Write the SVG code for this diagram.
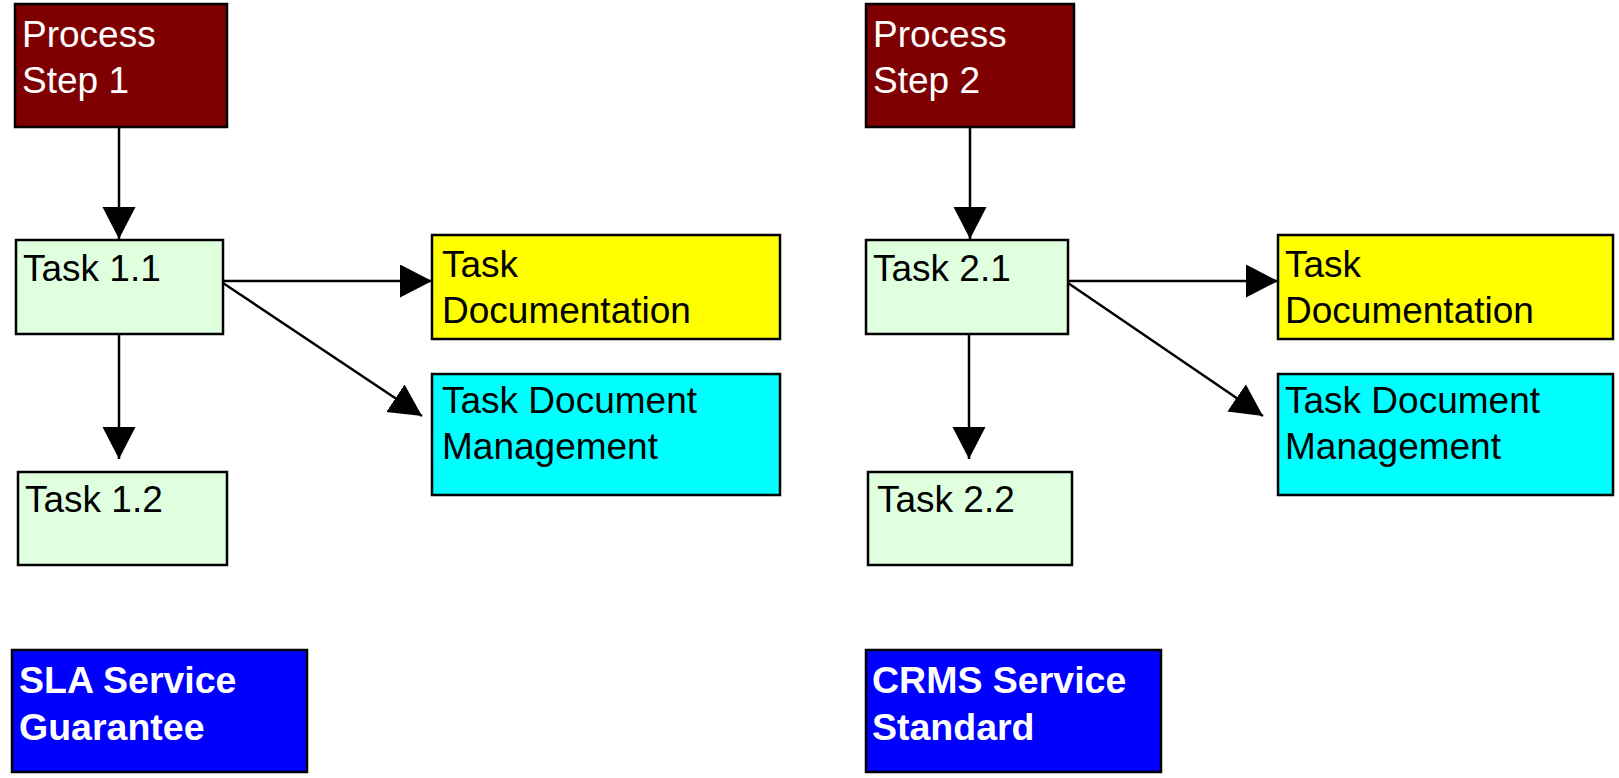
<svg xmlns="http://www.w3.org/2000/svg" width="1619" height="778" viewBox="0 0 1619 778">
  <style>
    .box { stroke: #000; stroke-width: 2.5; }
    .step { fill: #7f0000; }
    .task { fill: #dfffdf; }
    .doc { fill: #ffff00; }
    .mgmt { fill: #00ffff; }
    .svc { fill: #0000ff; }
    .lbl { font-family: "Liberation Sans", Arial, sans-serif; font-size: 37px; fill: #000; }
    .light { fill: #fff; }
    .bold { font-weight: bold; font-size: 37.5px; fill: #fff; }
    .edge { stroke: #000; stroke-width: 2.5; fill: none; marker-end: url(#head); }
  </style>
  <defs>
    <marker id="head" markerUnits="userSpaceOnUse" markerWidth="34" markerHeight="34" refX="32" refY="16.5" orient="auto">
      <path d="M0,0 L32,16.5 L0,33 Z" fill="#000"/>
    </marker>
  </defs>
  <rect width="1619" height="778" fill="#fff"/>

  <g id="connectors">
    <line class="edge" x1="119" y1="127" x2="119" y2="239"/>
    <line class="edge" x1="223" y1="281" x2="432" y2="281"/>
    <line class="edge" x1="223" y1="283" x2="422" y2="416"/>
    <line class="edge" x1="119" y1="334" x2="119" y2="459"/>
    <line class="edge" x1="970" y1="127" x2="970" y2="239"/>
    <line class="edge" x1="1068" y1="281" x2="1278" y2="281"/>
    <line class="edge" x1="1068" y1="283" x2="1263" y2="416"/>
    <line class="edge" x1="969" y1="334" x2="969" y2="459"/>
  </g>

  <g id="process-step-1">
    <rect class="box step" x="15" y="4" width="212" height="123"/>
    <text class="lbl light" x="22" y="47">Process</text>
    <text class="lbl light" x="22" y="93">Step 1</text>
  </g>
  <g id="task-1-1">
    <rect class="box task" x="16" y="240" width="207" height="94"/>
    <text class="lbl" x="23" y="281">Task 1.1</text>
  </g>
  <g id="task-documentation-1">
    <rect class="box doc" x="432" y="235" width="348" height="104"/>
    <text class="lbl" x="442" y="277">Task</text>
    <text class="lbl" x="442" y="323">Documentation</text>
  </g>
  <g id="task-document-management-1">
    <rect class="box mgmt" x="432" y="374" width="348" height="121"/>
    <text class="lbl" x="442" y="413">Task Document</text>
    <text class="lbl" x="442" y="459">Management</text>
  </g>
  <g id="task-1-2">
    <rect class="box task" x="18" y="472" width="209" height="93"/>
    <text class="lbl" x="25" y="512">Task 1.2</text>
  </g>
  <g id="sla-service-guarantee">
    <rect class="box svc" x="12" y="650" width="295" height="122"/>
    <text class="lbl bold" x="19" y="693">SLA Service</text>
    <text class="lbl bold" x="19" y="740">Guarantee</text>
  </g>

  <g id="process-step-2">
    <rect class="box step" x="866" y="4" width="208" height="123"/>
    <text class="lbl light" x="873" y="47">Process</text>
    <text class="lbl light" x="873" y="93">Step 2</text>
  </g>
  <g id="task-2-1">
    <rect class="box task" x="866" y="240" width="202" height="94"/>
    <text class="lbl" x="873" y="281">Task 2.1</text>
  </g>
  <g id="task-documentation-2">
    <rect class="box doc" x="1278" y="235" width="335" height="104"/>
    <text class="lbl" x="1285" y="277">Task</text>
    <text class="lbl" x="1285" y="323">Documentation</text>
  </g>
  <g id="task-document-management-2">
    <rect class="box mgmt" x="1278" y="374" width="335" height="121"/>
    <text class="lbl" x="1285" y="413">Task Document</text>
    <text class="lbl" x="1285" y="459">Management</text>
  </g>
  <g id="task-2-2">
    <rect class="box task" x="868" y="472" width="204" height="93"/>
    <text class="lbl" x="877" y="512">Task 2.2</text>
  </g>
  <g id="crms-service-standard">
    <rect class="box svc" x="866" y="650" width="295" height="122"/>
    <text class="lbl bold" x="872" y="693">CRMS Service</text>
    <text class="lbl bold" x="872" y="740">Standard</text>
  </g>
</svg>
